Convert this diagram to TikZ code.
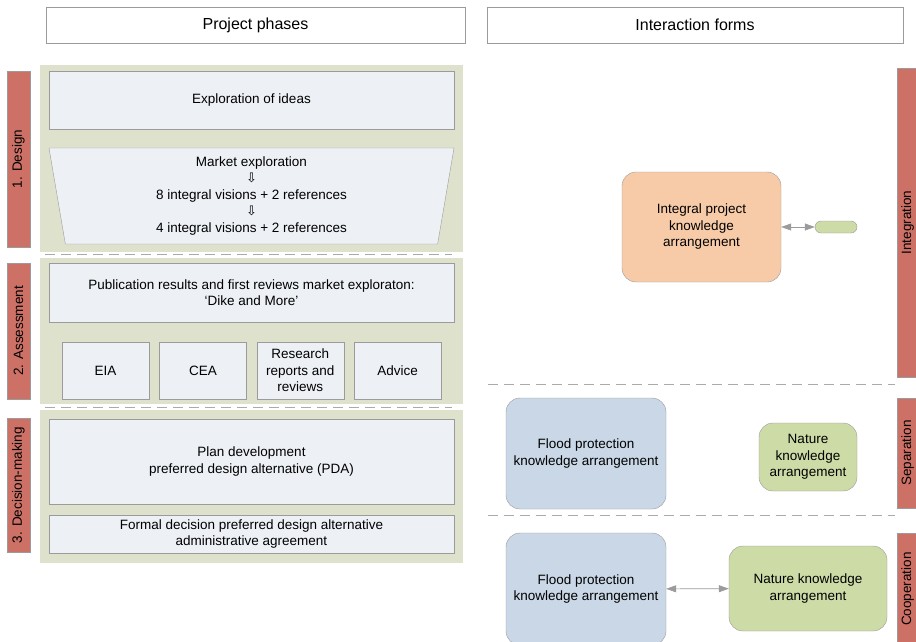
\documentclass[tikz,border=0pt]{standalone}
\usepackage{fontspec}
\setmainfont{Liberation Sans}
\newfontfamily\symfont{DejaVu Sans}
\usetikzlibrary{positioning}
\usetikzlibrary{arrows.meta}
\usetikzlibrary{shapes.geometric}

\definecolor{barred}{RGB}{205,113,103}
\definecolor{panelgreen}{RGB}{222,226,204}
\definecolor{boxfill}{RGB}{237,240,245}
\definecolor{edgegray}{RGB}{155,155,155}
\definecolor{dashgray}{RGB}{170,170,170}
\definecolor{orangefill}{RGB}{248,203,168}
\definecolor{bluefill}{RGB}{201,215,230}
\definecolor{greenfill}{RGB}{205,219,167}

\begin{document}
\begin{tikzpicture}
			[x=1pt,y=-1pt,
			 every node/.style={font=\fontsize{13.5}{16.5}\selectfont,align=center,inner sep=2pt},
			 header/.style={draw=edgegray,fill=white,minimum height=36pt,font=\fontsize{16}{18}\selectfont},
			 panel/.style={fill=panelgreen,minimum width=423pt},
			 phasebox/.style={draw=edgegray,fill=boxfill,minimum width=405pt},
			 smallbox/.style={draw=edgegray,fill=boxfill,minimum width=87pt,minimum height=57pt},
			 phasebar/.style={draw=edgegray,fill=barred,rotate=90,minimum height=21pt},
			 arrangement/.style={draw=edgegray,rounded corners=14pt},
			 separator/.style={draw=dashgray,dash pattern=on 10pt off 6pt},
			 link/.style={draw=edgegray,semithick,{Triangle[length=10pt,width=7pt]}-{Triangle[length=10pt,width=7pt]}}]
			\useasboundingbox [fill=white] (0,0) rectangle (916,641);

			\node (hphase) [header,minimum width=419pt] at (255.5,25) {Project phases};
			\node (hforms) [header,minimum width=416pt] at (695,25) {Interaction forms};

			\node (pdesign) [panel,minimum height=187pt] at (251.5,158.5) {};
			\node (passess) [panel,minimum height=146pt] at (251.5,331) {};
			\node (pdecide) [panel,minimum height=153pt] at (251.5,486.5) {};
			\draw [separator] (45,254) -- (452,254);
			\draw [separator] (45,407) -- (452,407);

			\node (bdesign) [phasebar,minimum width=176pt,minimum height=23pt] at (18.5,159) {1. Design};
			\node (bassess) [phasebar,minimum width=136pt,minimum height=23pt] at (18.5,331) {2. Assessment};
			\node (bdecide) [phasebar,minimum width=134pt,minimum height=23pt] at (18.5,485) {3. Decision-making};

			\node (ideas) [phasebox,minimum height=58pt] at (251.5,100) {Exploration of ideas};
			\node (market) [phasebox,trapezium,shape border rotate=180,trapezium stretches body,
			  trapezium left angle=78.8,trapezium right angle=78.8,minimum height=96pt] at (251.5,196)
			  {Market exploration\\ {\symfont\fontsize{13}{16.5}\selectfont ⇩}\\ 8 integral visions + 2 references\\
			   {\symfont\fontsize{13}{16.5}\selectfont ⇩}\\ 4 integral visions + 2 references};

			\node (pubres) [phasebox,minimum height=59pt] at (251.5,292.5)
			  {Publication results and first reviews market exploraton:\\ `Dike and More'};
			\node (eia) [smallbox] at (105.5,370.5) {EIA};
			\node (cea) [smallbox,right=10pt of eia] {CEA};
			\node (research) [smallbox,right=10pt of cea] {Research\\ reports and\\ reviews};
			\node (advice) [smallbox,right=10pt of research] {Advice};

			\node (plandev) [phasebox,minimum height=85pt] at (251.5,461.5)
			  {Plan development\\ preferred design alternative (PDA)};
			\node (formal) [phasebox,minimum height=38pt] at (251.5,534)
			  {Formal decision preferred design alternative\\ administrative agreement};

			\node (binteg) [phasebar,minimum width=309pt] at (907.5,222.5) {Integration};
			\node (bsep) [phasebar,minimum width=110pt] at (907.5,453) {Separation};
			\node (bcoop) [phasebar,minimum width=112pt] at (907.5,589) {Cooperation};
			\draw [separator] (488,384) -- (895,384);
			\draw [separator] (488,515) -- (895,515);

			\node (integral) [arrangement,fill=orangefill,minimum width=159pt,minimum height=110pt] at (701.5,227)
			  {Integral project\\ knowledge\\ arrangement};
			\node (pill) [draw=edgegray,fill=greenfill,rounded corners=6pt,minimum width=42pt,minimum height=12pt,inner sep=0pt] at (836,227) {};
			\draw [link] (integral) -- (pill);

			\node (flood1) [arrangement,fill=bluefill,minimum width=160pt,minimum height=111pt] at (586,453.5)
			  {Flood protection\\ knowledge arrangement};
			\node (nature1) [arrangement,fill=greenfill,minimum width=98pt,minimum height=68pt] at (808,457)
			  {Nature\\ knowledge\\ arrangement};

			\node (flood2) [arrangement,fill=bluefill,minimum width=160pt,minimum height=112pt] at (586,589)
			  {Flood protection\\ knowledge arrangement};
			\node (nature2) [arrangement,fill=greenfill,minimum width=158pt,minimum height=85pt] at (808,588.5)
			  {Nature knowledge\\ arrangement};
			\draw [link] (flood2) -- (nature2);
		\end{tikzpicture}
\end{document}
